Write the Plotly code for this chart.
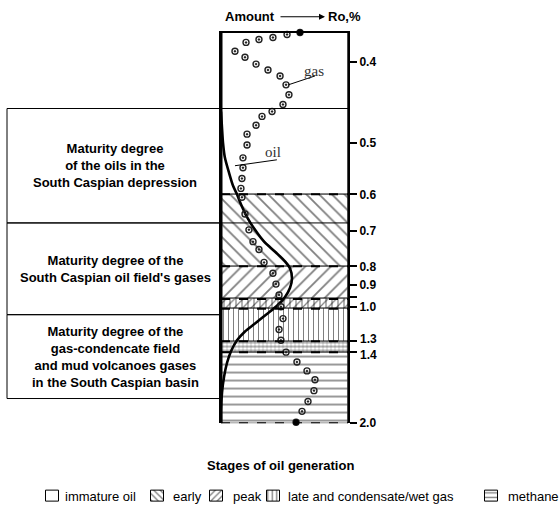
import plotly.graph_objects as go

W, H = 560, 516
FONT = "Liberation Sans, Arial, sans-serif"
SERIF = "Liberation Serif, Times New Roman, serif"

# ---------------- data ----------------
# Ro,% scale (non-linear): tick labels and their position along the column (depth units, 0 = top)
ro_labels = ["0.4", "0.5", "0.6", "0.7", "0.8", "0.9", "", "1.0", "1.3", "1.4", "2.0"]
ro_pos = [30, 112, 164, 201, 237, 256, 268, 278, 313, 324, 396]

# stages of oil generation (depth units)
stage_names = ["immature oil", "early", "peak", "peak/late", "late and condensate/wet gas",
               "late/methane", "methane"]
stage_top = [0, 164, 237, 270, 280, 313, 324]
stage_bot = [164, 237, 270, 280, 313, 324, 396]
stage_shape = ["", "\\", "/", "|", "|", "+", "-"]
stage_extra = ["", "", "", "/", "", "-", ""]
stage_size = [8, 9, 9, 6, 5, 4, 8]

# gas generation curve (amount %, depth)
gas_amount = [62.2, 52.0, 40.9, 29.9, 19.7, 11.0, 18.9, 27.6, 37.0, 46.5,
              51.2, 53.5, 48.8, 40.2, 32.3, 27.6, 20.5, 20.5, 17.3, 17.3,
              16.5, 15.7, 16.5, 18.9, 22.0, 25.2, 29.9, 33.9, 40.9, 43.3,
              45.7, 47.2, 48.8, 45.7, 47.2, 51.2, 59.8, 67.7, 74.0, 73.2,
              68.5, 63.8, 59.1]
gas_depth = [0, 2, 5, 7, 10, 19, 25, 32, 38, 44,
             53, 63, 73, 80, 85, 94, 103, 114, 127, 137,
             148, 158, 167, 184, 200, 212, 220, 233, 244, 255,
             266, 278, 290, 301, 312, 324, 334, 343, 352, 363,
             374, 384, 395]

# oil generation curve (amount %, depth)
oil_amount = [0.0, 0.8, 1.6, 3.1, 6.3, 9.4, 12.6, 15.7, 20.5, 26.8, 33.9, 43.3, 50.4, 54.3,
              55.9, 54.3, 50.4, 44.1, 35.4, 26.8, 18.9, 12.6, 7.9, 4.7, 2.4, 0.8, 0.0, 0.0]
oil_depth = [80, 97, 112, 127, 142, 155, 164, 174, 187, 200, 212, 223, 232, 239,
             249, 259, 268, 277, 286, 295, 303, 312, 323, 335, 349, 365, 382, 396]

# maturity boxes on the left
box_text = ["Maturity degree<br>of the oils in the<br>South Caspian depression",
            "Maturity degree of the<br>South Caspian oil field's gases",
            "Maturity degree of the<br>gas-condencate field<br>and mud volcanoes gases<br>in the South Caspian basin"]
box_top = [77, 193, 286]
box_bot = [193, 286, 371]

# legend entries
leg_names = ["immature oil", "early", "peak", "late and condensate/wet gas", "methane"]
leg_shape = ["", "\\", "/", "|", "-"]

# ---------------- figure ----------------
fig = go.Figure()

for i, name in enumerate(stage_names):
    fig.add_trace(go.Bar(
        x=[50], width=[100], base=[stage_top[i]], y=[stage_bot[i] - stage_top[i]],
        marker=dict(color="white", line=dict(color="black", width=0.8),
                    pattern=dict(shape=stage_shape[i], fgcolor="black", bgcolor="white",
                                 size=stage_size[i], solidity=0.2)),
        showlegend=False, hoverinfo="skip", name=name, xaxis="x", yaxis="y"))
    if stage_extra[i]:
        fig.add_trace(go.Bar(
            x=[50], width=[100], base=[stage_top[i]], y=[stage_bot[i] - stage_top[i]],
            marker=dict(color="rgba(0,0,0,0)", line=dict(width=0),
                        pattern=dict(shape=stage_extra[i], fgcolor="black", bgcolor="rgba(0,0,0,0)",
                                     size=stage_size[i], solidity=0.2)),
            showlegend=False, hoverinfo="skip", xaxis="x", yaxis="y"))

# oil curve
fig.add_trace(go.Scatter(x=oil_amount, y=oil_depth, mode="lines",
                         line=dict(color="black", width=2.6, shape="spline", smoothing=0.8),
                         showlegend=False, hoverinfo="skip", cliponaxis=False))
# gas curve
fig.add_trace(go.Scatter(x=gas_amount, y=gas_depth, mode="markers",
                         marker=dict(symbol="circle-open-dot", size=6, color="#222",
                                     line=dict(color="#222", width=1.4)),
                         showlegend=False, hoverinfo="skip", cliponaxis=False))
fig.add_trace(go.Scatter(x=[gas_amount[0], gas_amount[-1]], y=[gas_depth[0], gas_depth[-1]],
                         mode="markers", marker=dict(symbol="circle", size=6, color="black"),
                         showlegend=False, hoverinfo="skip", cliponaxis=False))

# legend swatches (drawn in a small helper axis at the bottom)
leg_cx = [52, 157, 216, 273, 491]
leg_tx = [63, 171, 231, 286, 506]
for i, name in enumerate(leg_names):
    fig.add_trace(go.Bar(
        x=[leg_cx[i]], width=[13], base=[497], y=[12],
        marker=dict(color="white", line=dict(color="black", width=1),
                    pattern=dict(shape=leg_shape[i], fgcolor="black", bgcolor="white",
                                 size=4.5, solidity=0.3)),
        showlegend=False, hoverinfo="skip", xaxis="x2", yaxis="y2"))

shapes = []
# dashed stage boundaries
for d in [164, 237, 270, 280, 313, 324, 396]:
    shapes.append(dict(type="line", xref="x", yref="y", x0=0, x1=100, y0=d, y1=d,
                       line=dict(color="black", width=2, dash="dash")))
# left maturity boxes
for t, b in zip(box_top, box_bot):
    shapes.append(dict(type="rect", xref="paper", yref="y", x0=7 / W, x1=221 / W, y0=t, y1=b,
                       line=dict(color="black", width=1)))
for t in box_top[:2]:
    shapes.append(dict(type="line", xref="x", yref="y", x0=0, x1=100, y0=t, y1=t,
                       line=dict(color="black", width=1)))
# leader lines for curve labels
shapes.append(dict(type="line", xref="x", yref="y", x0=53, x1=74, y0=53, y1=44,
                   line=dict(color="black", width=1)))
shapes.append(dict(type="line", xref="x", yref="y", x0=11, x1=44, y0=135, y1=129,
                   line=dict(color="black", width=1)))
# thicker left border
shapes.append(dict(type="line", xref="x", yref="y", x0=0, x1=0, y0=0, y1=396,
                   line=dict(color="black", width=3)))


def A(**kw):
    d = dict(showarrow=False, xanchor="center", yanchor="middle")
    d.update(kw)
    return d


TICKFONT = dict(family=FONT, size=12, color="black", weight="bold")
ann = []
for txt, t, b in zip(box_text, box_top, box_bot):
    ann.append(A(text=txt, xref="paper", yref="y", x=115 / W, y=(t + b) / 2,
                 font=dict(family=FONT, size=13, color="black", weight="bold"), align="center"))
ann.append(A(text="gas", xref="x", yref="y", x=73, y=39,
             font=dict(family=SERIF, size=15, color="#333")))
ann.append(A(text="oil", xref="x", yref="y", x=41, y=121,
             font=dict(family=SERIF, size=15, color="#333")))
# closely spaced Ro labels (1.3 / 1.4) placed as text beside their ticks
close_idx = [ro_labels.index("1.3"), ro_labels.index("1.4")]
for k, nudge in zip(close_idx, [-2.5, 2.5]):
    ann.append(A(text=ro_labels[k], xref="paper", yref="y", x=358 / W, y=ro_pos[k] + nudge,
                 xanchor="left", font=TICKFONT))
tick_text = [("" if i in close_idx else s) for i, s in enumerate(ro_labels)]
# header
ann.append(A(text="Amount", xref="paper", yref="paper", x=250 / W, y=(H - 17) / H,
             font=dict(family=FONT, size=13, color="black", weight="bold")))
ann.append(A(text="Ro,%", xref="paper", yref="paper", x=344 / W, y=(H - 17) / H,
             font=dict(family=FONT, size=13, color="black", weight="bold")))
ann.append(dict(text="", xref="paper", yref="paper", x=325 / W, y=(H - 17) / H,
                ax=-46, ay=0, showarrow=True, arrowhead=2, arrowsize=1, arrowwidth=1.2,
                arrowcolor="black"))
# legend texts
ann.append(A(text="Stages of oil generation", xref="paper", yref="paper", x=280 / W,
             y=(H - 472) / H, font=dict(family=FONT, size=13, color="black", weight="bold")))
for i, name in enumerate(leg_names):
    ann.append(A(text=name, xref="paper", yref="paper", x=leg_tx[i] / W, y=(H - 503) / H,
                 xanchor="left", font=dict(family=FONT, size=13, color="black")))

fig.update_layout(
    width=W, height=H, margin=dict(l=0, r=0, t=0, b=0),
    paper_bgcolor="white", plot_bgcolor="white",
    barmode="overlay", bargap=0, showlegend=False,
    xaxis=dict(domain=[221 / W, 348 / W], range=[0, 100], showgrid=False, zeroline=False,
               showticklabels=False, ticks="", showline=True, linecolor="black", linewidth=2,
               side="top", fixedrange=True),
    yaxis=dict(domain=[(H - 429) / H, (H - 33) / H], range=[396, 0], side="right",
               showgrid=False, zeroline=False, showline=True, mirror=True,
               linecolor="black", linewidth=2, ticks="outside", ticklen=7, tickwidth=2,
               tickcolor="black", tickvals=ro_pos, ticktext=tick_text,
               tickfont=TICKFONT, fixedrange=True),
    xaxis2=dict(domain=[0, 1], range=[0, W], visible=False, anchor="y2", fixedrange=True),
    yaxis2=dict(domain=[0, 46 / H], range=[516, 470], visible=False, anchor="x2", fixedrange=True),
    shapes=shapes, annotations=ann,
)

fig.write_html("out.html")
